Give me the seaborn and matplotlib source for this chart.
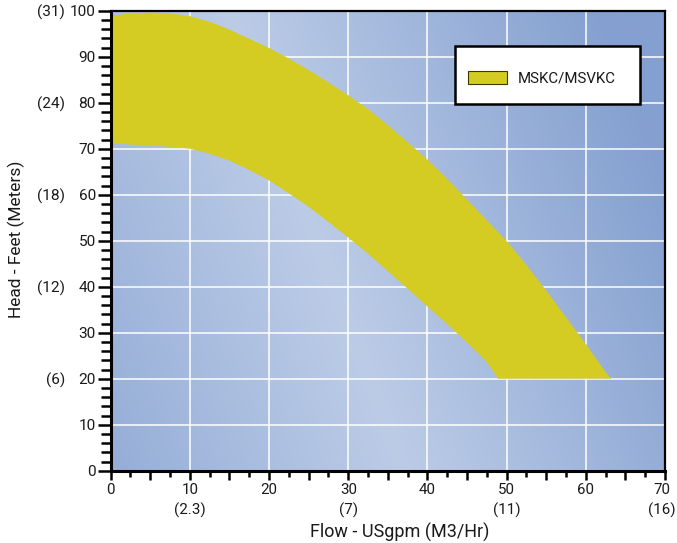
import numpy as np
import matplotlib
matplotlib.use("Agg")
import matplotlib.pyplot as plt
import seaborn as sns
from matplotlib.patches import Patch, Rectangle
from matplotlib.ticker import MultipleLocator
from matplotlib.transforms import ScaledTranslation

# ---------------- data ----------------
flow_upper = [0, 2.5, 5, 7.5, 10, 12.5, 15, 17.5, 20, 22.5, 25, 27.5, 30, 32.5, 35,
              37.5, 40, 42.5, 45, 47.5, 50, 52.5, 55, 57.5, 60, 62.5, 63.1]
head_upper = [98.8, 99.3, 99.5, 99.3, 98.7, 97.5, 95.8, 93.8, 91.8, 89.5, 87.0, 84.3,
              81.5, 78.5, 75.0, 71.3, 67.5, 63.3, 58.8, 54.3, 49.8, 44.6, 39.0, 33.2,
              27.4, 21.3, 20.0]
flow_lower = [0, 2.5, 5, 7.5, 10, 12.5, 15, 17.5, 20, 22.5, 25, 27.5, 30, 32.5, 35,
              37.5, 40, 42.5, 45, 47.5, 49.0]
head_lower = [71.3, 71.0, 70.8, 70.5, 70.1, 69.0, 67.5, 65.5, 63.2, 60.4, 57.5, 54.2,
              50.8, 47.3, 43.5, 39.7, 35.8, 32.0, 28.0, 23.8, 20.0]
series_label = "MSKC/MSVKC"

x_tick_values = [0, 10, 20, 30, 40, 50, 60, 70]
x_tick_labels = ["0", "10\n(2.3)", "20", "30\n(7)", "40", "50\n(11)", "60", "70\n(16)"]
y_tick_values = [0, 10, 20, 30, 40, 50, 60, 70, 80, 90, 100]
metric_values = [100, 80, 60, 40, 20]
metric_labels = ["(31)", "(24)", "(18)", "(12)", "(6)"]
grid_x = [10, 20, 30, 40, 50, 60]
grid_y = [10, 20, 30, 40, 50, 60, 70, 80, 90]

YEL = "#D4CC22"
TXT = "#1a1a1a"

# ---------------- style ----------------
sns.set_theme(style="white")
plt.rcParams["font.family"] = ["Roboto", "DejaVu Sans"]

fig = plt.figure(figsize=(6.77, 5.43), dpi=100)
ax = fig.add_axes([110.7 / 677, (543 - 470.7) / 543, (665 - 110.7) / 677, 460 / 543])

# ---------------- gradient background ----------------
xs = np.linspace(110.7, 665, 300)
ys = np.linspace(10.7, 470.7, 260)
X, Y = np.meshgrid(xs, ys)
d = 0.934 * (X - 400) - 0.356 * (Y - 460)
f = np.where(d > 0, d / 350.0, -d / 400.0)
f = np.clip(f, 0, 1)
C1 = np.array([188, 204, 231]) / 255
C2 = np.array([132, 160, 208]) / 255
img = C1[None, None, :] * (1 - f)[..., None] + C2[None, None, :] * f[..., None]
ax.imshow(img, extent=(0, 70, 0, 100), aspect="auto", origin="upper",
          zorder=0, interpolation="bilinear")

# grid
for gx in grid_x:
    ax.axvline(gx, color="white", lw=1.1, zorder=1)
for gy in grid_y:
    ax.axhline(gy, color="white", lw=1.1, zorder=1)

# ---------------- band ----------------
poly_x = np.concatenate([flow_upper, flow_lower[::-1]])
poly_y = np.concatenate([head_upper, head_lower[::-1]])
ax.fill(poly_x, poly_y, color=YEL, lw=0, zorder=2)
sns.lineplot(x=flow_upper, y=head_upper, ax=ax, color=YEL, lw=0.6,
             estimator=None, sort=False, zorder=3)
sns.lineplot(x=flow_lower, y=head_lower, ax=ax, color=YEL, lw=0.6,
             estimator=None, sort=False, zorder=3)

ax.set_xlim(0, 70)
ax.set_ylim(0, 100)
ax.set_xlabel("")
ax.set_ylabel("")

# ---------------- ticks ----------------
xt = np.arange(0, 71, 5)
ax.set_xticks(xt)
lab_map = dict(zip(x_tick_values, x_tick_labels))
ax.set_xticklabels([lab_map.get(int(v), "") for v in xt])
ax.xaxis.set_minor_locator(MultipleLocator(2.5))
ax.set_yticks(y_tick_values)
ax.set_yticklabels([str(v) for v in y_tick_values])
ax.yaxis.set_minor_locator(MultipleLocator(2))

ax.tick_params(axis="x", which="major", length=6.5, width=1.8, direction="out",
               pad=2.5, labelsize=10.9, bottom=True, color="black", labelcolor=TXT)
ax.tick_params(axis="x", which="minor", length=4.3, width=1.8, direction="out",
               bottom=True, color="black")
ax.tick_params(axis="y", which="major", length=9.4, width=1.8, direction="out",
               pad=1.2, labelsize=11.1, left=True, color="black", labelcolor=TXT)
ax.tick_params(axis="y", which="minor", length=7.2, width=1.8, direction="out",
               left=True, color="black")

for t in ax.get_xticklabels():
    t.set_linespacing(1.5)
last_tick = ax.xaxis.get_major_ticks()[-1]
last_tick.label1.set_transform(last_tick.label1.get_transform() +
                               ScaledTranslation(-3 / 100, 0, fig.dpi_scale_trans))

for v, lbl in zip(metric_values, metric_labels):
    ax.annotate(lbl, xy=(0, v), xycoords=("axes fraction", "data"),
                xytext=(-33, 0), textcoords="offset points",
                ha="right", va="center_baseline", fontsize=11.1, color=TXT)

# spines
for s in ["left", "bottom"]:
    ax.spines[s].set_visible(True)
    ax.spines[s].set_color("black")
    ax.spines[s].set_linewidth(2.2)
for s in ["top", "right"]:
    ax.spines[s].set_visible(True)
    ax.spines[s].set_color("black")
    ax.spines[s].set_linewidth(1.6)
for s in ax.spines.values():
    s.set_zorder(4)

# ---------------- legend ----------------
ax.add_patch(Rectangle((0.621, 0.797), 0.334, 0.126, transform=ax.transAxes,
                       facecolor="white", edgecolor="black", lw=1.8, zorder=5))
leg = ax.legend(handles=[Patch(facecolor=YEL, edgecolor="#3a3a00", lw=0.8,
                               label=series_label)],
                loc="center left", bbox_to_anchor=(0.6446, 0.8526), frameon=False,
                borderpad=0, borderaxespad=0, handlelength=2.6, handleheight=0.87,
                handletextpad=0.73, fontsize=10.8, labelcolor=TXT)
leg.set_zorder(6)

# ---------------- axis titles ----------------
fig.text(399.5 / 677, 1 - 532 / 543, "Flow - USgpm (M3/Hr)", ha="center", va="center",
         fontsize=13, color=TXT)
fig.text(16.5 / 677, 1 - 239 / 543, "Head - Feet (Meters)", rotation=90,
         ha="center", va="center", fontsize=12.5, color=TXT)

fig.savefig("out.png", dpi=100)
